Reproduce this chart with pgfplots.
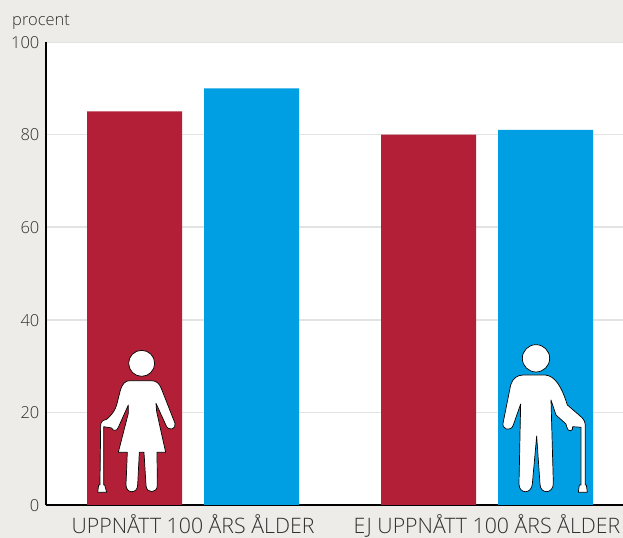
\documentclass[border=0pt]{standalone}
\usepackage{pgfplots}
\pgfplotsset{compat=1.18}
\usepackage{fontspec}
\setmainfont{Open Sans Light}
\definecolor{bgc}{HTML}{EDECE8}
\definecolor{redb}{HTML}{B21F36}
\definecolor{blueb}{HTML}{009EE3}
\definecolor{txt}{HTML}{303030}
\begin{document}
\begin{tikzpicture}[x=1bp,y=1bp]
\path[use as bounding box,fill=bgc] (0,0) rectangle (623,538);
\fill[white] (46,33) rectangle (623,496);
\begin{axis}[
  at={(46bp,33bp)},anchor=south west,
  scale only axis,width=577bp,height=463bp,
  xmin=-0.5,xmax=1.4626,ymin=0,ymax=100,
  axis x line=bottom,axis y line=left,
  axis line style={black,line width=1.8bp,-},
  xtick={0,1},xticklabels={UPPNÅTT 100 ÅRS ÅLDER,EJ UPPNÅTT 100 ÅRS ÅLDER},
  xtick style={draw=none},
  ytick={0,20,...,100},
  ytick style={draw=none},
  ymajorgrids,grid style={draw=black!11,line width=1.6bp},
  ybar=22bp,bar width=95bp,
  /pgf/number format/assume math mode=true,
  tick label style={text=txt},
  yticklabel style={font=\fontsize{16.5bp}{18bp}\selectfont,xshift=-1bp,yshift=-0.5bp},
  xticklabel style={font=\fontsize{21.3bp}{23bp}\selectfont,inner ysep=0pt,yshift=-5bp},
  clip=false,
]
\addplot[fill=redb,draw=none] coordinates {(0,85) (1,80)};
\addplot[fill=blueb,draw=none] coordinates {(0,90) (1,81)};
\end{axis}
\fill[bgc] (47,496) rectangle (623,499);
\node[anchor=base west,text=txt,font=\fontsize{16.5bp}{18bp}\selectfont,inner sep=0pt] at (12,512) {procent};
% woman pictogram (decorative)
\begin{scope}[shift={(60,198)},x=0.3333bp,y=-0.3333bp,draw=black,fill=white,line width=0.7bp,line join=round]
\filldraw (245,70) circle[radius=39*0.3333bp];
\filldraw (210,122) -- (272,122) .. controls (290,122) and (298,130) .. (305,148)
 -- (345,250) .. controls (350,268) and (325,275) .. (318,256)
 -- (288,190) -- (290,215) -- (317,337) -- (291,337) -- (292,435)
 .. controls (292,462) and (258,462) .. (258,435) -- (252,337) -- (238,337) -- (233,435)
 .. controls (233,462) and (198,462) .. (198,435) -- (202,337) -- (175,337)
 -- (205,220) -- (205,195) -- (175,262)
 .. controls (172,274) and (158,274) .. (155,264) -- (131,260) -- (131,435) -- (134,435) -- (140,457) -- (113,457) -- (116,435) -- (120,435)
 -- (122,255) .. controls (122,245) and (130,240) .. (140,238)
 .. controls (155,225) and (165,212) .. (170,195) -- (180,155)
 .. controls (186,132) and (195,122) .. (210,122) -- cycle;
\end{scope}
% man pictogram (decorative)
\begin{scope}[shift={(480,208)},x=0.3333bp,y=-0.3333bp,draw=black,fill=white,line width=0.7bp,line join=round]
\filldraw (168,85) circle[radius=41*0.3333bp];
\filldraw (130,135) -- (195,135) .. controls (225,137) and (245,170) .. (262,225)
 -- (305,262) .. controls (313,270) and (316,278) .. (316,290) -- (316,465) -- (319,465) -- (322,487) -- (295,487) -- (298,465) -- (303,465)
 -- (303,292) -- (278,290) .. controls (282,305) and (262,308) .. (260,290)
 -- (258,282) -- (228,255) -- (213,210) -- (220,460)
 .. controls (220,493) and (180,493) .. (180,462) -- (170,318) -- (157,462)
 .. controls (155,493) and (117,493) .. (117,462) -- (122,222) -- (100,285)
 .. controls (92,308) and (62,298) .. (70,275) -- (92,165)
 .. controls (98,145) and (112,135) .. (130,135) -- cycle;
\end{scope}
\end{tikzpicture}
\end{document}
